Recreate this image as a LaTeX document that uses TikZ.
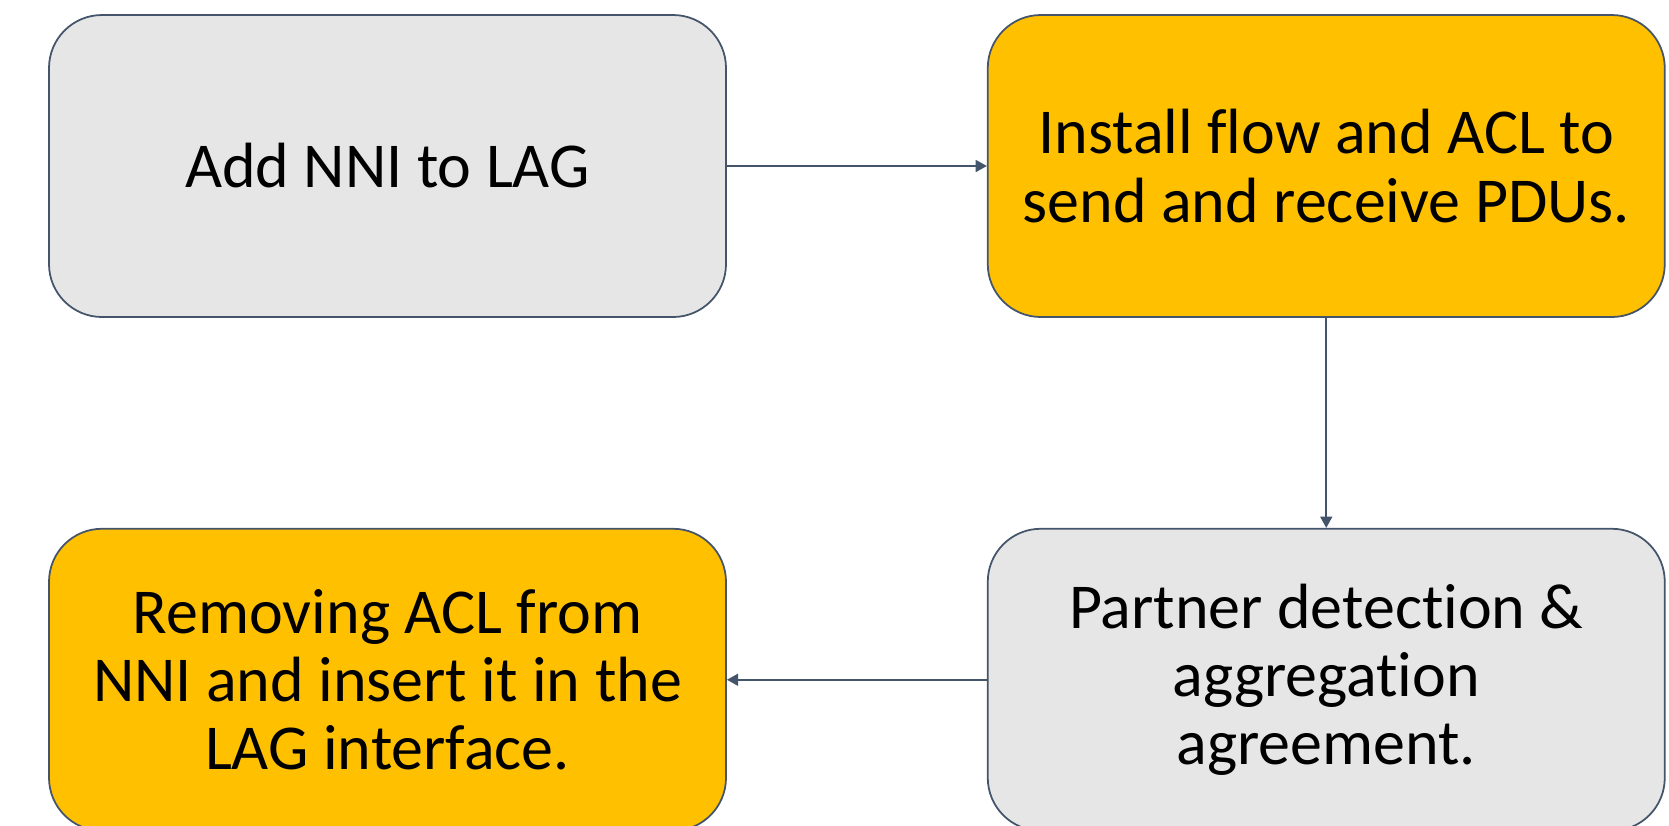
\documentclass[tikz,border=0pt]{standalone}
\usepackage{fontspec}
\setmainfont[Ligatures={NoCommon}]{Carlito}
\usetikzlibrary{arrows.meta,positioning}
\definecolor{Slate}{HTML}{44546A}
\definecolor{Grey}{HTML}{E6E6E6}
\definecolor{Gold}{HTML}{FFC000}
\tikzset{greybox/.style={rounded corners=0.53cm,draw=Slate,fill=Grey,line width=0.5pt,minimum width=6.77cm,minimum height=3.02cm,align=center},goldbox/.style={greybox,fill=Gold},flow/.style={-{Triangle[length=3.2pt,width=3.4pt]},line width=0.5pt,draw=Slate}}
\begin{document}
\begin{tikzpicture}[node distance=2.6cm and 2.6cm,every node/.style={font=\fontsize{18.2}{19.4}\selectfont}]
      \useasboundingbox (0,0) rectangle (16.69,-8.25);
      \clip (0,0) rectangle (16.69,-8.25);
      \node[greybox](add) at (3.875,-1.66){Add NNI to LAG};
      \node[goldbox,right=of add](install){Install flow and ACL to\\send and receive PDUs.};
      \node[greybox,below=2.1cm of install](partner){Partner detection \&\\aggregation\\agreement.};
      \node[goldbox,left=of partner](remove){Removing ACL from\\NNI and insert it in the\\LAG interface.};
      \draw[flow](add)--(install);\draw[flow](install)--(partner);\draw[flow](partner)--(remove);
    \end{tikzpicture}
\end{document}
